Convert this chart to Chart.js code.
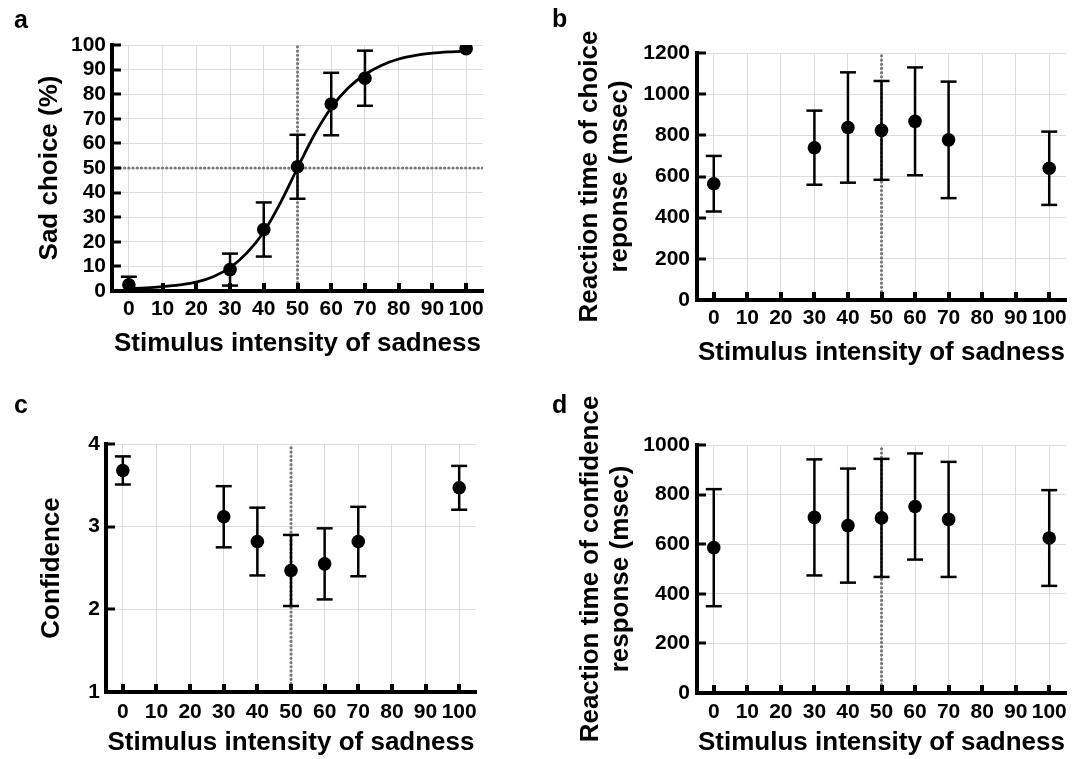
<!DOCTYPE html>
<html>
<head>
<meta charset="utf-8">
<script src="https://cdn.jsdelivr.net/npm/chart.js@4.4.1/dist/chart.umd.min.js"></script>
<style>
  body { margin: 0; background: #fff; }
  #wrap { position: relative; width: 1084px; height: 759px; overflow: hidden; background: #fff; }
  canvas { position: absolute; display: block; }
  .lbl { position: absolute; font: bold 25px 'Liberation Sans', Arial, sans-serif; line-height: 25px; color: #000; }
</style>
</head>
<body>
<div id="wrap">
  <canvas id="chartA" width="542" height="380" style="left:0;top:0"></canvas>
  <canvas id="chartB" width="542" height="380" style="left:542px;top:0"></canvas>
  <canvas id="chartC" width="542" height="380" style="left:0;top:379px"></canvas>
  <canvas id="chartD" width="542" height="380" style="left:542px;top:379px"></canvas>
  <div class="lbl" style="left:14px;top:7px">a</div>
  <div class="lbl" style="left:552px;top:6px">b</div>
  <div class="lbl" style="left:14px;top:392px">c</div>
  <div class="lbl" style="left:552px;top:392px">d</div>
</div>
<script>
// stimulus levels that were tested
var stimLevels = [0, 30, 40, 50, 60, 70, 100];
var xTicks = [0, 10, 20, 30, 40, 50, 60, 70, 80, 90, 100];
var xTitle = 'Stimulus intensity of sadness';

// a - sad choice (%)
var sadMean = [2.5, 8.7, 25, 50.5, 76, 86.5, 98.5];
var sadErr = [3.3, 6.5, 11, 13, 12.7, 11.2, null];
var fitX = [0, 5, 10, 15, 20, 25, 30, 35, 40, 45, 50, 55, 60, 65, 70, 75, 80, 85, 90, 95, 100];
var fitY = [1.0, 1.3, 1.8, 2.5, 3.6, 5.8, 9.5, 15.5, 24, 36, 50, 63.5, 74.5, 82.5, 88, 91.8, 94.3, 95.8, 96.7, 97.2, 97.5];
var sadTicks = [0, 10, 20, 30, 40, 50, 60, 70, 80, 90, 100];

// b - reaction time of choice (msec)
var rtChoiceMean = [565, 740, 838, 824, 868, 778, 640];
var rtChoiceErr = [135, 180, 268, 240, 262, 283, 178];
var rtChoiceTicks = [0, 200, 400, 600, 800, 1000, 1200];

// c - confidence
var confMean = [3.68, 3.12, 2.82, 2.47, 2.55, 2.82, 3.47];
var confErr = [0.17, 0.37, 0.41, 0.43, 0.43, 0.42, 0.265];
var confTicks = [1, 2, 3, 4];

// d - reaction time of confidence (msec)
var rtConfMean = [586, 708, 675, 706, 752, 700, 625];
var rtConfErr = [236, 234, 230, 238, 214, 232, 193];
var rtConfTicks = [0, 200, 400, 600, 800, 1000];

Chart.defaults.font.family = "'Liberation Sans', Arial, sans-serif";
Chart.defaults.font.weight = 'bold';
Chart.defaults.color = '#000';

function pairs(xs, ys) {
  return xs.map(function (x, i) { return {x: x, y: ys[i]}; });
}

function errorBarData(xs, mean, err) {
  var out = [];
  for (var i = 0; i < xs.length; i++) {
    if (err[i] == null) continue;
    out.push({x: xs[i], y: mean[i] - err[i]});
    out.push({x: xs[i], y: mean[i] + err[i]});
    out.push({x: xs[i], y: null});
  }
  return out;
}

// small tick marks pointing into the plot
var innerTicks = {
  id: 'innerTicks',
  afterDatasetsDraw: function (chart) {
    var ctx = chart.ctx, area = chart.chartArea;
    var xs = chart.scales.x, ys = chart.scales.y;
    ctx.save();
    ctx.fillStyle = '#000';
    xs.ticks.forEach(function (t) {
      var px = xs.getPixelForValue(t.value);
      ctx.fillRect(Math.round(px) - 2, area.bottom - 8, 4, 8);
    });
    ys.ticks.forEach(function (t) {
      var py = ys.getPixelForValue(t.value);
      ctx.fillRect(area.left, Math.round(py) - 1.5, 9, 3);
    });
    ctx.restore();
  }
};

function dotted(data) {
  return {
    data: data,
    showLine: true, borderColor: '#7a7a7a', borderWidth: 3.2,
    borderDash: [0.01, 4.2], borderCapStyle: 'round',
    pointRadius: 0, order: 5
  };
}

function makePanel(id, p) {
  var datasets = [];
  // dotted reference lines
  datasets.push(dotted([{x: 50, y: p.yMin}, {x: 50, y: p.yMax}]));
  if (p.hLine != null) {
    datasets.push(dotted([{x: -5, y: p.hLine}, {x: 105, y: p.hLine}]));
  }
  // error bars
  datasets.push({
    data: errorBarData(stimLevels, p.mean, p.err),
    showLine: true, spanGaps: false,
    borderColor: '#000', borderWidth: 2.5,
    pointStyle: 'line', pointRadius: 8, pointBorderWidth: 2.5,
    pointBorderColor: '#000', order: 3
  });
  if (p.fitX) {
    datasets.push({
      data: pairs(p.fitX, p.fitY),
      showLine: true, borderColor: '#000', borderWidth: 2.8,
      cubicInterpolationMode: 'monotone',
      pointRadius: 0, order: 2
    });
  }
  // means
  datasets.push({
    data: pairs(stimLevels, p.mean),
    pointRadius: 6.8, pointBackgroundColor: '#000', pointBorderColor: '#000',
    pointBorderWidth: 0, order: 1
  });

  new Chart(document.getElementById(id), {
    type: 'scatter',
    data: {datasets: datasets},
    plugins: [innerTicks],
    options: {
      responsive: false,
      animation: false,
      layout: {padding: p.pad},
      plugins: {legend: {display: false}, tooltip: {enabled: false}},
      scales: {
        x: {
          type: 'linear', min: -5, max: 105,
          afterBuildTicks: function (s) { s.ticks = xTicks.map(function (v) { return {value: v}; }); },
          afterFit: function (s) { s.height = p.xHeight; },
          grid: {color: '#dcdcdc', lineWidth: 1, drawTicks: false},
          border: {display: true, color: '#000', width: 4},
          ticks: {font: {size: 21, weight: 'bold'}, padding: p.xTickPad, maxRotation: 0, autoSkip: false,
                  callback: function (v) { return String(v); }},
          title: {display: true, text: xTitle, font: {size: 26, weight: 'bold'}, padding: {top: 0, bottom: p.xTitlePad}}
        },
        y: {
          min: p.yMin, max: p.yMax,
          afterBuildTicks: function (s) { s.ticks = p.yTicks.map(function (v) { return {value: v}; }); },
          afterFit: function (s) { s.width = p.yWidth; },
          grid: {color: '#dcdcdc', lineWidth: 1, drawTicks: false},
          border: {display: true, color: '#000', width: 4},
          ticks: {font: {size: 21, weight: 'bold'}, padding: p.yTickPad, autoSkip: false,
                  callback: function (v) { return String(v); }},
          title: {display: true, text: p.yTitle, font: {size: 26, weight: 'bold', lineHeight: 1.15}, padding: {top: p.yTitlePad, bottom: 0}}
        }
      }
    }
  });
}

makePanel('chartA', {
  mean: sadMean, err: sadErr, fitX: fitX, fitY: fitY,
  yMin: 0, yMax: 100, yTicks: sadTicks, hLine: 50,
  yTitle: 'Sad choice (%)',
  pad: {left: 0, top: 45, right: 59, bottom: 0},
  yWidth: 112, xHeight: 89, xTickPad: 6, yTickPad: 6, xTitlePad: 21, yTitlePad: 35
});

makePanel('chartB', {
  mean: rtChoiceMean, err: rtChoiceErr,
  yMin: 0, yMax: 1200, yTicks: rtChoiceTicks,
  yTitle: ['Reaction time of choice', 'reponse (msec)'],
  pad: {left: 0, top: 53, right: 18, bottom: 0},
  yWidth: 155, xHeight: 80, xTickPad: 6, yTickPad: 7, xTitlePad: 12, yTitlePad: 33
});

makePanel('chartC', {
  mean: confMean, err: confErr,
  yMin: 1, yMax: 4, yTicks: confTicks,
  yTitle: 'Confidence',
  pad: {left: 0, top: 65, right: 66, bottom: 0},
  yWidth: 106, xHeight: 67, xTickPad: 8, yTickPad: 6, xTitlePad: 1, yTitlePad: 37
});

makePanel('chartD', {
  mean: rtConfMean, err: rtConfErr,
  yMin: 0, yMax: 1000, yTicks: rtConfTicks,
  yTitle: ['Reaction time of confidence', 'response (msec)'],
  pad: {left: 0, top: 66, right: 18, bottom: 0},
  yWidth: 155, xHeight: 66, xTickPad: 7, yTickPad: 7, xTitlePad: 1, yTitlePad: 34
});
</script>
</body>
</html>
